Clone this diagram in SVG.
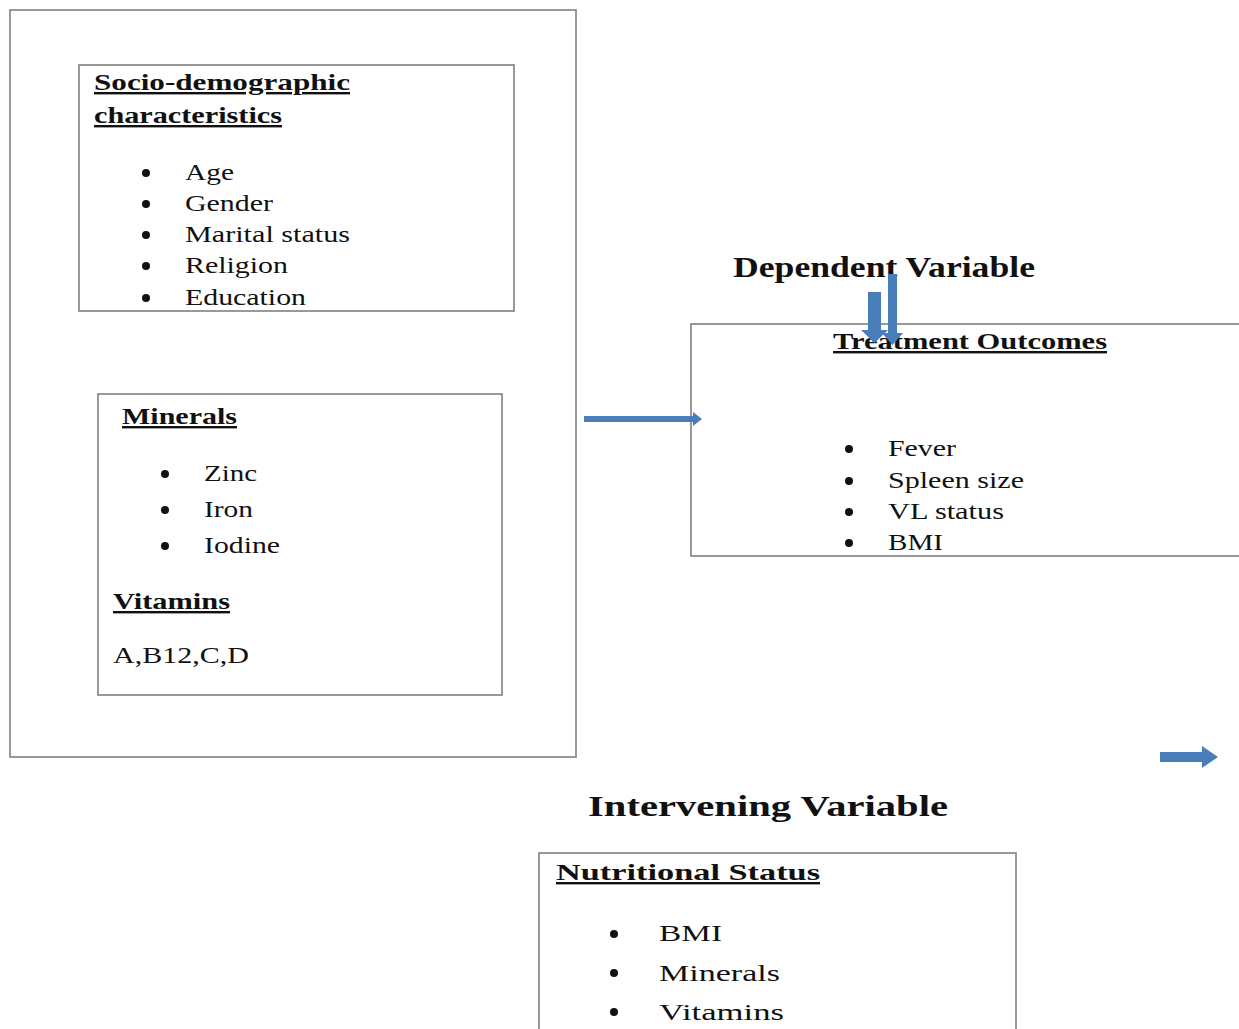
<svg xmlns="http://www.w3.org/2000/svg" width="1239" height="1029" viewBox="0 0 1239 1029">
<style>
.box{fill:none;stroke:#808080;stroke-width:1.6}
.t{font-family:"Liberation Serif",serif;font-size:24px;fill:#111}
.h{font-family:"Liberation Serif",serif;font-size:24px;font-weight:bold;fill:#111;text-decoration:underline}
.big{font-family:"Liberation Serif",serif;font-size:29px;font-weight:bold;fill:#111}
.dot{fill:#111}
.arr{fill:#4a7ebb}
</style>
<rect width="1239" height="1029" fill="#fff"/>
<g id="outer"><rect class="box" x="10" y="10" width="566" height="747"/></g>
<g id="socio">
<rect class="box" x="79" y="65" width="435" height="246"/>
<text class="h" x="94" y="90" textLength="256" lengthAdjust="spacingAndGlyphs">Socio-demographic </text>
<text class="h" x="94" y="123" textLength="188" lengthAdjust="spacingAndGlyphs">characteristics</text>
<circle class="dot" cx="146" cy="173" r="4"/><text class="t" x="185" y="180" textLength="49" lengthAdjust="spacingAndGlyphs">Age</text>
<circle class="dot" cx="146" cy="204" r="4"/><text class="t" x="185" y="211" textLength="88" lengthAdjust="spacingAndGlyphs">Gender</text>
<circle class="dot" cx="146" cy="235" r="4"/><text class="t" x="185" y="242" textLength="165" lengthAdjust="spacingAndGlyphs">Marital status</text>
<circle class="dot" cx="146" cy="266" r="4"/><text class="t" x="185" y="273" textLength="103" lengthAdjust="spacingAndGlyphs">Religion</text>
<circle class="dot" cx="146" cy="298" r="4"/><text class="t" x="185" y="305" textLength="121" lengthAdjust="spacingAndGlyphs">Education</text>
</g>
<g id="minerals">
<rect class="box" x="98" y="394" width="404" height="301"/>
<text class="h" x="122" y="424" textLength="115" lengthAdjust="spacingAndGlyphs">Minerals</text>
<circle class="dot" cx="165" cy="474" r="4"/><text class="t" x="204" y="481" textLength="53" lengthAdjust="spacingAndGlyphs">Zinc</text>
<circle class="dot" cx="165" cy="510" r="4"/><text class="t" x="204" y="517" textLength="49" lengthAdjust="spacingAndGlyphs">Iron</text>
<circle class="dot" cx="165" cy="546" r="4"/><text class="t" x="204" y="553" textLength="76" lengthAdjust="spacingAndGlyphs">Iodine</text>
<text class="h" x="113" y="609" textLength="117" lengthAdjust="spacingAndGlyphs">Vitamins</text>
<text class="t" x="113" y="663" textLength="136" lengthAdjust="spacingAndGlyphs">A,B12,C,D</text>
</g>
<g id="dependent">
<text class="big" x="733" y="277" textLength="302" lengthAdjust="spacingAndGlyphs">Dependent Variable</text>
</g>
<g id="treatment">
<rect class="box" x="691" y="324" width="560" height="232"/>
<text class="h" x="833" y="349" textLength="274" lengthAdjust="spacingAndGlyphs">Treatment Outcomes</text>
<circle class="dot" cx="849" cy="449" r="4"/><text class="t" x="888" y="456" textLength="68" lengthAdjust="spacingAndGlyphs">Fever</text>
<circle class="dot" cx="849" cy="481" r="4"/><text class="t" x="888" y="488" textLength="136" lengthAdjust="spacingAndGlyphs">Spleen size</text>
<circle class="dot" cx="849" cy="512" r="4"/><text class="t" x="888" y="519" textLength="116" lengthAdjust="spacingAndGlyphs">VL status</text>
<circle class="dot" cx="849" cy="543" r="4"/><text class="t" x="888" y="550" textLength="55" lengthAdjust="spacingAndGlyphs">BMI</text>
</g>
<g id="intervening">
<text class="big" x="588" y="816" textLength="360" lengthAdjust="spacingAndGlyphs">Intervening Variable</text>
</g>
<g id="nutritional">
<rect class="box" x="539" y="853" width="477" height="190"/>
<text class="h" x="556" y="880" font-size="26" textLength="264" lengthAdjust="spacingAndGlyphs">Nutritional Status</text>
<circle class="dot" cx="614" cy="934" r="4"/><text class="t" x="659" y="941" font-size="26" textLength="63" lengthAdjust="spacingAndGlyphs">BMI</text>
<circle class="dot" cx="614" cy="973" r="4"/><text class="t" x="659" y="981" font-size="26" textLength="121" lengthAdjust="spacingAndGlyphs">Minerals</text>
<circle class="dot" cx="614" cy="1012" r="4"/><text class="t" x="659" y="1020" font-size="26" textLength="125" lengthAdjust="spacingAndGlyphs">Vitamins</text>
</g>
<g id="connectors">
<polygon class="arr" points="584,416 693,416 693,412 702,419 693,426 693,422 584,422"/>
<polygon class="arr" points="1160,752 1202,752 1202,746 1218,757 1202,768 1202,762 1160,762"/>
<polygon class="arr" points="868,292 881,292 881,330 888,330 874.5,343 861,330 868,330"/>
<polygon class="arr" points="888,274 897,274 897,333 903,333 892.5,345 882,333 888,333"/>
</g>
</svg>
